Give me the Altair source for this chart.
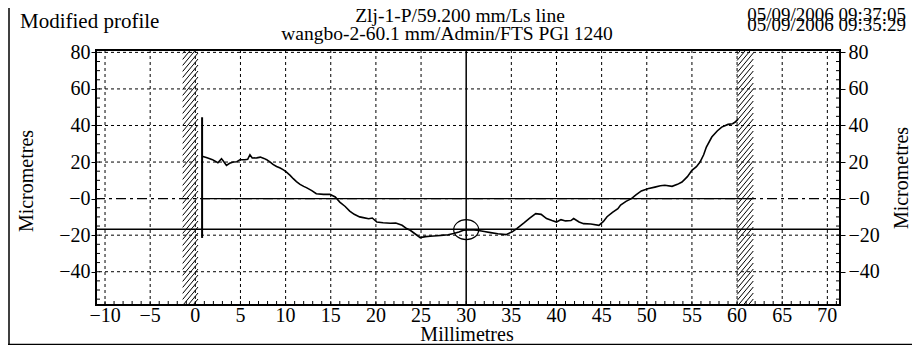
import altair as alt
import numpy as np
import pandas as pd

# ---------------- data ----------------
prof_x = [0.75, 1.3, 1.9, 2.5, 2.9, 3.1, 3.45, 3.8, 4.2, 4.6, 4.95, 5.5, 5.8, 6.05, 6.3, 6.8, 7.2, 7.6,
          7.9, 8.3, 8.6, 9.0, 9.4, 9.8, 10.1, 10.5, 10.85, 11.2, 11.6, 12.0, 12.3, 12.9, 13.4, 14.2,
          14.9, 15.5, 16.0, 16.6, 17.1, 17.6, 18.2, 18.6, 19.2, 19.6, 20.1, 20.8, 21.6, 22.2, 22.9,
          23.4, 23.8, 24.4, 24.9, 25.5, 26.0, 26.8, 27.5, 28.0, 28.6, 29.2, 29.7, 30.5, 31.2, 32.0,
          32.7, 33.5, 34.4, 35.1, 35.6, 36.4, 37.0, 37.7, 38.3, 38.9, 39.5, 40.0, 40.5, 41.0, 41.6,
          41.9, 42.5, 43.0, 43.8, 44.7, 45.2, 45.6, 46.2, 46.8, 47.1, 47.7, 48.3, 48.8, 49.4, 50.1,
          50.9, 51.5, 52.0, 52.8, 53.4, 53.9, 54.5, 55.0, 55.5, 55.9, 56.3, 56.6, 57.2, 57.8, 58.3,
          59.0, 59.5, 59.8, 60.1]
prof_y = [23.2, 22.3, 21.3, 19.6, 21.8, 20.6, 18.2, 19.3, 20.0, 20.2, 21.3, 21.3, 21.5, 24.0, 22.2,
          22.3, 22.7, 22.0, 21.3, 20.0, 18.7, 17.6, 16.7, 15.6, 14.5, 12.7, 10.9, 9.3, 7.8, 6.7, 6.0,
          4.4, 2.7, 2.3, 2.4, 0.9, -1.9, -4.3, -6.8, -8.6, -10.0, -10.4, -11.0, -10.6, -12.8, -13.2,
          -13.5, -13.4, -14.6, -16.4, -17.3, -19.5, -21.3, -20.8, -20.6, -20.3, -20.0, -19.8, -19.1,
          -18.3, -17.3, -17.0, -17.3, -18.0, -18.6, -19.2, -19.7, -18.2, -16.4, -13.3, -10.8, -8.2,
          -8.6, -10.9, -12.0, -12.8, -11.5, -12.2, -12.0, -10.9, -12.8, -13.7, -13.9, -14.6, -12.5,
          -9.9, -7.5, -5.5, -3.5, -1.5, 0.0, 2.0, 4.2, 5.4, 6.3, 7.0, 7.3, 6.7, 7.8, 9.1, 12.0, 15.5,
          17.5, 20.0, 24.0, 28.2, 33.7, 37.0, 39.1, 40.6, 41.0, 41.9, 43.5]

x_labels = [-10, -5, 0, 5, 10, 15, 20, 25, 30, 35, 40, 45, 50, 55, 60, 65, 70]
x_grid = [-10, -5, 0, 5, 10, 15, 20, 25, 35, 40, 45, 50, 55, 60, 65, 70]
y_labels = [-40, -20, 0, 20, 40, 60, 80]
y_grid = [-40, -20, 20, 40, 60, 80]

centre_x = [30]
ref_level = [-16.8]
start_x = [0.75]
start_bar_lo = [-21.5]
start_bar_hi = [44.5]
zero_solid_from = [0.75]
zero_solid_to = [61.8]
hatch_left = [-1.4, 60.0]
hatch_right = [0.3, 61.8]
marker_x = [30]
marker_y = [-17]

title_left = "Modified profile"
title_mid1 = "Zlj-1-P/59.200 mm/Ls line"
title_mid2 = "wangbo-2-60.1 mm/Admin/FTS PGl 1240"
title_date1 = "05/09/2006 09:37:05"
title_date2 = "05/09/2006 09:35:29"
y_title = "Micrometres"
x_title = "Millimetres"

# ---------------- layout ----------------
X_DOMAIN = [-11.0, 71.4]
Y_DOMAIN = [-58.2, 81.3]
W, H = 744, 255
FONT = "Liberation Serif"

xs = alt.Scale(domain=X_DOMAIN, nice=False, zero=False)
ys = alt.Scale(domain=Y_DOMAIN, nice=False, zero=False)

px_x = W / (X_DOMAIN[1] - X_DOMAIN[0])
px_y = H / (Y_DOMAIN[1] - Y_DOMAIN[0])

# hatch segments (decoration of the two end zones)
hx, hy, hx2, hy2 = [], [], [], []
for a, b in zip(hatch_left, hatch_right):
    rise = 1.2 * (b - a) * px_x / px_y
    step = 6.0 / px_y
    for y0 in np.arange(Y_DOMAIN[0] - rise, Y_DOMAIN[1] + step, step):
        hx.append(a); hy.append(y0); hx2.append(b); hy2.append(y0 + rise)
hatch_df = pd.DataFrame({"x": hx, "y": hy, "x2": hx2, "y2": hy2})

axis_common = dict(labelFont=FONT, labelFontSize=20, labelColor="black", domain=False,
                   grid=False, title=None, labelFlush=False, labelOverlap=False)

y_left_axis = alt.Axis(values=y_labels, orient="left", tickSize=5, tickColor="black",
                       labelPadding=1, labelExpr="datum.value == 0 ? '\u22120' : datum.label",
                       **axis_common)
y_right_axis = alt.Axis(values=y_labels, orient="right", tickSize=5, tickColor="black",
                        labelPadding=3, labelExpr="datum.value == 0 ? '\u22120' : datum.label",
                        **axis_common)

dash = [3, 3]

grid_v = alt.Chart(pd.DataFrame({"x": x_grid})).mark_rule(
    color="black", strokeWidth=1, strokeDash=dash).encode(
    x=alt.X("x:Q", scale=xs, axis=None))

grid_h = alt.Chart(pd.DataFrame({"y": y_grid})).mark_rule(
    color="black", strokeWidth=1, strokeDash=dash).encode(
    y=alt.Y("y:Q", scale=ys, axis=y_right_axis))

zero_dd = alt.Chart(pd.DataFrame({"y": [0]})).mark_rule(
    color="black", strokeWidth=1.2, strokeDash=[10, 4, 3, 4]).encode(
    y=alt.Y("y:Q", scale=ys, axis=None))

zero_solid = alt.Chart(pd.DataFrame({"x": zero_solid_from, "x2": zero_solid_to, "y": [0]})).mark_rule(
    color="black", strokeWidth=1.3).encode(
    x=alt.X("x:Q", scale=xs, axis=None), x2="x2:Q", y=alt.Y("y:Q", scale=ys, axis=None))

ref_line = alt.Chart(pd.DataFrame({"y": ref_level})).mark_rule(
    color="black", strokeWidth=1.5).encode(y=alt.Y("y:Q", scale=ys, axis=None))

centre_line = alt.Chart(pd.DataFrame({"x": centre_x})).mark_rule(
    color="black", strokeWidth=1.5).encode(x=alt.X("x:Q", scale=xs, axis=None))

start_bar = alt.Chart(pd.DataFrame({"x": start_x, "y": start_bar_lo, "y2": start_bar_hi})).mark_rule(
    color="black", strokeWidth=2).encode(
    x=alt.X("x:Q", scale=xs, axis=None), y=alt.Y("y:Q", scale=ys, axis=None), y2="y2:Q")

hatch = alt.Chart(hatch_df).mark_rule(color="black", strokeWidth=1, clip=True).encode(
    x=alt.X("x:Q", scale=xs, axis=None), x2="x2:Q",
    y=alt.Y("y:Q", scale=ys, axis=None), y2="y2:Q")

profile = alt.Chart(pd.DataFrame({"x": prof_x, "y": prof_y})).mark_line(
    color="black", strokeWidth=1.6).encode(
    x=alt.X("x:Q", scale=xs, axis=None),
    y=alt.Y("y:Q", scale=ys, axis=y_left_axis))

marker = alt.Chart(pd.DataFrame({"x": marker_x, "y": marker_y})).mark_point(
    shape="M-1,0A1,0.8,0,1,1,1,0A1,0.8,0,1,1,-1,0Z", size=625, filled=False,
    color="black", strokeWidth=1.2, opacity=1).encode(
    x=alt.X("x:Q", scale=xs, axis=None), y=alt.Y("y:Q", scale=ys, axis=None))

minor_x = alt.Chart(pd.DataFrame({"x": np.arange(-10, 72)})).mark_rule(
    color="black", strokeWidth=1).encode(
    x=alt.X("x:Q", scale=xs, axis=None), y=alt.value(H), y2=alt.value(H - 4))

minor_y_df = pd.DataFrame({"y": np.arange(-55, 81, 5)})
minor_yl = alt.Chart(minor_y_df).mark_rule(color="black", strokeWidth=1).encode(
    y=alt.Y("y:Q", scale=ys, axis=None), x=alt.value(0), x2=alt.value(4))
minor_yr = alt.Chart(minor_y_df).mark_rule(color="black", strokeWidth=1).encode(
    y=alt.Y("y:Q", scale=ys, axis=None), x=alt.value(W), x2=alt.value(W - 4))

# x tick labels (drawn through the x scale)
x_label_df = pd.DataFrame({"x": x_labels,
                           "lab": [str(v).replace("-", "\u2212") for v in x_labels]})
x_tick_labels = alt.Chart(x_label_df).mark_text(
    font=FONT, fontSize=20, color="black", align="center", baseline="top").encode(
    x=alt.X("x:Q", scale=xs, axis=None), y=alt.value(H + 1), text="lab:N")


def txt(text, x, y, align="left", baseline="alphabetic", size=20, angle=0):
    return alt.Chart(pd.DataFrame({"t": [text]})).mark_text(
        font=FONT, fontSize=size, color="black", align=align, baseline=baseline, angle=angle
    ).encode(text="t:N", x=alt.value(x), y=alt.value(y))


texts = [
    txt(title_left, -76, -22, "left", size=21),
    txt(title_mid1, 364, -28, "center", size=19.5),
    txt(title_mid2, 351, -10, "center", size=19.5),
    txt(title_date1, 810, -29, "right", size=19),
    txt(title_date2, 810, -19, "right", size=19),
    txt(y_title, -69, 131, "center", "middle", size=20, angle=270),
    txt(y_title, 806, 128, "center", "middle", size=20, angle=270),
    txt(x_title, 371, 291, "center", "alphabetic", size=20),
]

frame_left = alt.Chart(pd.DataFrame({"a": [0]})).mark_rule(color="black", strokeWidth=1.5).encode(
    x=alt.value(-87), y=alt.value(-42), y2=alt.value(295))
frame_bottom = alt.Chart(pd.DataFrame({"a": [0]})).mark_rule(color="black", strokeWidth=1.5).encode(
    x=alt.value(-88), x2=alt.value(816), y=alt.value(294.5))

chart = alt.layer(
    grid_v, grid_h, zero_dd, zero_solid, ref_line, centre_line, start_bar, hatch,
    profile, marker, minor_x, minor_yl, minor_yr, x_tick_labels, *texts, frame_left, frame_bottom
).resolve_axis(y="independent").properties(
    width=W, height=H, autosize="none",
    padding={"left": 88, "top": 42, "right": 72, "bottom": 40},
    background="white",
).configure_view(stroke="black", strokeWidth=2)

chart.save("out.html", embed_options={"renderer": "svg", "actions": False})
